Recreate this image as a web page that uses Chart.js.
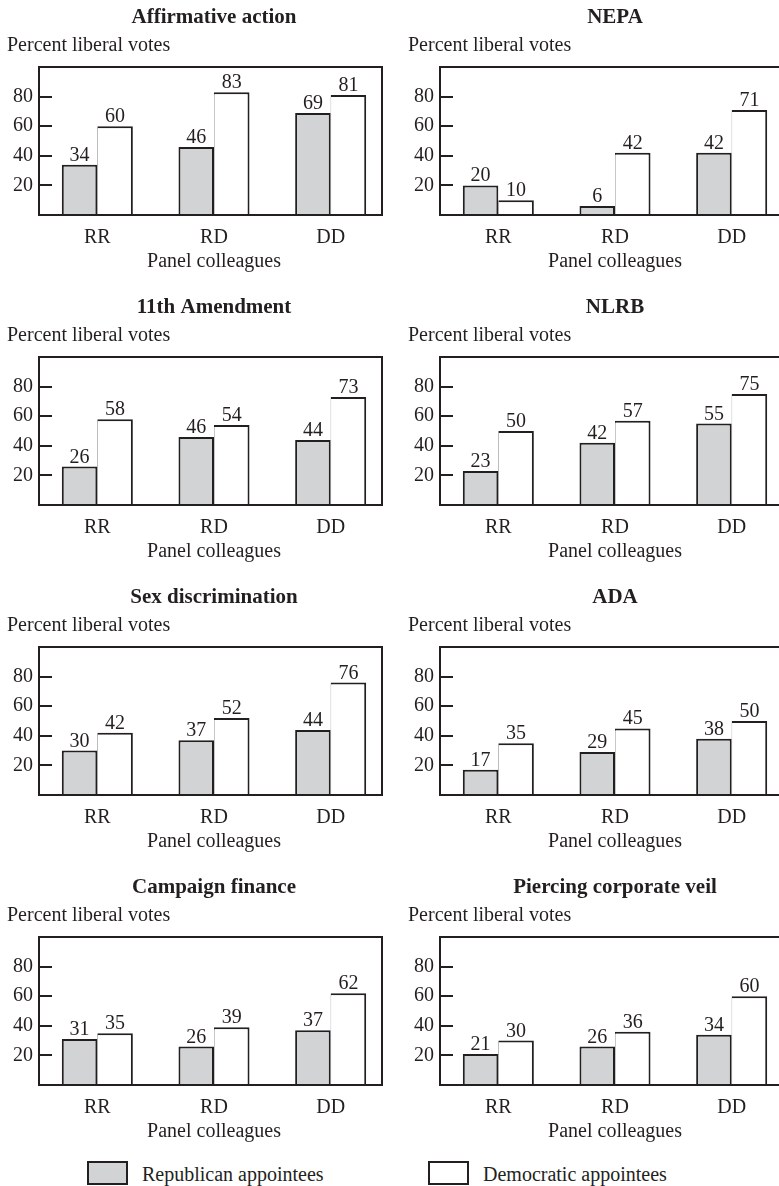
<!DOCTYPE html>
<html>
<head>
<meta charset="utf-8">
<script src="https://cdn.jsdelivr.net/npm/chart.js@4/dist/chart.umd.min.js"></script>
<style>
html,body{margin:0;padding:0;background:#fff;}
body{width:779px;height:1186px;overflow:hidden;position:relative;font-family:'Liberation Serif',serif;color:#231f20;}
canvas{position:absolute;}
.legend-box{position:absolute;width:37px;height:20px;border:2px solid #231f20;}
.legend-text{position:absolute;font-size:20px;line-height:24px;white-space:nowrap;}
</style>
</head>
<body>
<canvas id="c0" width="390" height="290" style="left:0px;top:0px"></canvas>
<canvas id="c1" width="390" height="290" style="left:401px;top:0px"></canvas>
<canvas id="c2" width="390" height="290" style="left:0px;top:290px"></canvas>
<canvas id="c3" width="390" height="290" style="left:401px;top:290px"></canvas>
<canvas id="c4" width="390" height="290" style="left:0px;top:580px"></canvas>
<canvas id="c5" width="390" height="290" style="left:401px;top:580px"></canvas>
<canvas id="c6" width="390" height="290" style="left:0px;top:870px"></canvas>
<canvas id="c7" width="390" height="290" style="left:401px;top:870px"></canvas>

<div class="legend-box" style="left:87px;top:1161px;background:#d1d3d4"></div>
<div class="legend-text" style="left:142px;top:1162px">Republican appointees</div>
<div class="legend-box" style="left:428px;top:1161px;background:#fff"></div>
<div class="legend-text" style="left:483px;top:1162px">Democratic appointees</div>

<script>
// ---- data ----
const categories = ['RR', 'RD', 'DD'];
const yTickValues = [20, 40, 60, 80];
const panelTitles = ['Affirmative action', 'NEPA', '11th Amendment', 'NLRB',
  'Sex discrimination', 'ADA', 'Campaign finance', 'Piercing corporate veil'];
const yAxisLabel = 'Percent liberal votes';
const xAxisLabel = 'Panel colleagues';
const seriesNames = ['Republican appointees', 'Democratic appointees'];

const affirmativeActionRep = [34, 46, 69];
const affirmativeActionDem = [60, 83, 81];
const nepaRep = [20, 6, 42];
const nepaDem = [10, 42, 71];
const eleventhAmendmentRep = [26, 46, 44];
const eleventhAmendmentDem = [58, 54, 73];
const nlrbRep = [23, 42, 55];
const nlrbDem = [50, 57, 75];
const sexDiscriminationRep = [30, 37, 44];
const sexDiscriminationDem = [42, 52, 76];
const adaRep = [17, 29, 38];
const adaDem = [35, 45, 50];
const campaignFinanceRep = [31, 26, 37];
const campaignFinanceDem = [35, 39, 62];
const corporateVeilRep = [21, 26, 34];
const corporateVeilDem = [30, 36, 60];

const repSeries = [affirmativeActionRep, nepaRep, eleventhAmendmentRep, nlrbRep,
  sexDiscriminationRep, adaRep, campaignFinanceRep, corporateVeilRep];
const demSeries = [affirmativeActionDem, nepaDem, eleventhAmendmentDem, nlrbDem,
  sexDiscriminationDem, adaDem, campaignFinanceDem, corporateVeilDem];

// ---- styling ----
const INK = '#231f20';
const GRAY = '#d1d3d4';
const FAMILY = "'Liberation Serif', 'Times New Roman', serif";
Chart.defaults.font.family = FAMILY;
Chart.defaults.color = INK;

const framePlugin = {
  id: 'frame',
  afterDatasetsDraw(chart) {
    const {ctx, chartArea: a, scales: {y}} = chart;
    ctx.save();
    ctx.strokeStyle = INK;
    ctx.lineWidth = 2;
    // inward tick marks
    ctx.beginPath();
    yTickValues.forEach(v => {
      const py = Math.round(y.getPixelForValue(v));
      ctx.moveTo(a.left, py);
      ctx.lineTo(a.left + 13, py);
    });
    ctx.stroke();
    // frame
    ctx.strokeRect(a.left, a.top, (a.right - 7) - a.left, a.bottom - a.top);
    // value labels
    ctx.fillStyle = INK;
    ctx.font = '20px ' + FAMILY;
    ctx.textAlign = 'center';
    ctx.textBaseline = 'alphabetic';
    chart.data.datasets.forEach((ds, di) => {
      const meta = chart.getDatasetMeta(di);
      meta.data.forEach((bar, i) => {
        ctx.fillText(String(ds.data[i]), bar.x, bar.y - 4);
      });
    });
    ctx.restore();
  }
};

panelTitles.forEach((title, idx) => {
  new Chart(document.getElementById('c' + idx), {
    type: 'bar',
    data: {
      labels: categories,
      datasets: [
        {
          label: seriesNames[0], data: repSeries[idx],
          backgroundColor: GRAY, borderColor: INK,
          borderWidth: {top: 2, left: 2, right: 2, bottom: 0},
          categoryPercentage: 0.609, barPercentage: 1
        },
        {
          label: seriesNames[1], data: demSeries[idx],
          backgroundColor: '#ffffff', borderColor: INK,
          borderWidth: {top: 2, left: 0.5, right: 2, bottom: 0},
          categoryPercentage: 0.609, barPercentage: 1
        }
      ]
    },
    options: {
      responsive: false,
      animation: false,
      devicePixelRatio: 1,
      layout: {padding: {left: 7, right: 1, top: 0, bottom: 0}},
      plugins: {
        legend: {display: false},
        tooltip: {enabled: false},
        title: {
          display: true, text: title, fullSize: false, color: INK,
          font: {size: 21, weight: 'bold', family: FAMILY, lineHeight: 1.2},
          padding: {top: 5, bottom: 0}
        },
        subtitle: {
          display: true, text: yAxisLabel, align: 'start', fullSize: true, color: INK,
          font: {size: 20, family: FAMILY, lineHeight: 1.2},
          padding: {top: 3.8, bottom: 9}
        }
      },
      scales: {
        x: {
          grid: {display: false, drawTicks: false},
          border: {display: false},
          ticks: {font: {size: 20, lineHeight: 1.2}, padding: 11, color: INK},
          title: {display: true, text: xAxisLabel, color: INK,
            font: {size: 20, lineHeight: 1.2}, padding: {top: 0, bottom: 16}},
          afterFit(s) { s.height = 75; }
        },
        y: {
          min: 0, max: 100,
          grid: {display: false, drawTicks: false},
          border: {display: false},
          ticks: {font: {size: 20, lineHeight: 1.2}, padding: 6, color: INK},
          afterBuildTicks(s) { s.ticks = yTickValues.map(v => ({value: v})); },
          afterFit(s) { s.width = 32; }
        }
      }
    },
    plugins: [framePlugin]
  });
});
</script>
</body>
</html>
